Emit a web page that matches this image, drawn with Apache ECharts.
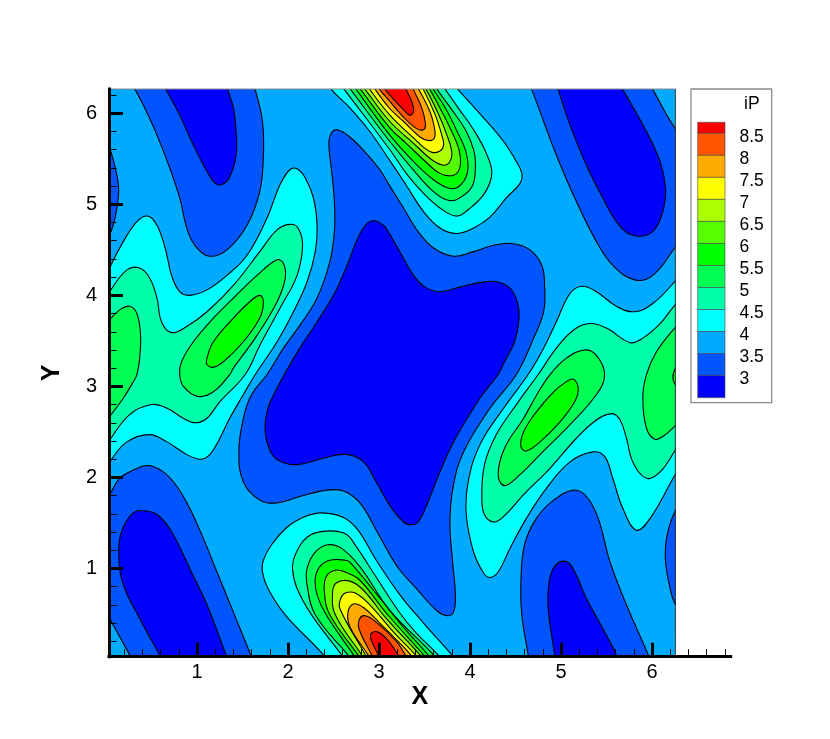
<!DOCTYPE html>
<html><head><meta charset="utf-8">
<style>html,body{margin:0;padding:0;background:#fff}#c{width:830px;height:739px}</style>
<script src="https://cdn.jsdelivr.net/npm/echarts@6/dist/echarts.min.js"></script>
</head><body><div id="c"></div>
<script>
// Contour levels (legend, top to bottom) and their band colours
const legendLabels = ['8.5','8','7.5','7','6.5','6','5.5','5','4.5','4','3.5','3'];
const bandColors = ['#ff0000','#ff5500','#ffaa00','#ffff00','#aaff00','#55ff00','#00ff00','#00ff55','#00ffaa','#00ffff','#00aaff','#0055ff','#0000ff'];
const majorTicks = [1,2,3,4,5,6];
const xMinorTicks = [0.2,0.4,0.6,0.8,1.2,1.4,1.6,1.8,2.2,2.4,2.6,2.8,3.2,3.4,3.6,3.8,4.2,4.4,4.6,4.8,5.2,5.4,5.6,5.8,6.2,6.4,6.6,6.8];
const yMinorTicks = [0.2,0.4,0.6,0.8,1.2,1.4,1.6,1.8,2.2,2.4,2.6,2.8,3.2,3.4,3.6,3.8,4.2,4.4,4.6,4.8,5.2,5.4,5.6,5.8,6.2];

// Domain of the field
const domain = [[0.033,0.03],[6.257,0.03],[6.257,6.267],[0.033,6.267]];

// Regions below 3.5
const below35 = [
 [[1.77,3.13],[1.95,3.42],[2.13,3.67],[2.32,3.97],[2.46,4.37],[2.51,4.70],[2.51,5.03],[2.48,5.36],[2.45,5.65],[2.47,5.77],[2.54,5.82],[2.68,5.74],[2.86,5.56],[3.01,5.38],[3.12,5.20],[3.27,4.96],[3.43,4.70],[3.60,4.52],[3.82,4.43],[4.04,4.48],[4.26,4.55],[4.46,4.57],[4.66,4.50],[4.79,4.33],[4.82,4.11],[4.81,3.82],[4.70,3.53],[4.51,3.13],[4.22,2.76],[3.93,2.28],[3.82,1.92],[3.78,1.51],[3.81,1.07],[3.84,0.71],[3.82,0.52],[3.75,0.48],[3.63,0.54],[3.41,0.78],[3.23,0.98],[3.12,1.15],[2.97,1.42],[2.79,1.72],[2.61,1.85],[2.43,1.86],[2.13,1.79],[1.88,1.72],[1.69,1.75],[1.51,1.95],[1.46,2.28],[1.51,2.65],[1.60,2.91]],
 [[-0.1,5.95],[0.04,5.62],[0.12,5.32],[0.14,5.14],[0.10,4.85],[0.04,4.66],[-0.1,4.4]],
 [[0.2,6.46],[0.32,6.26],[0.41,6.09],[0.56,5.76],[0.70,5.40],[0.81,5.07],[0.90,4.70],[1.00,4.52],[1.14,4.43],[1.33,4.50],[1.55,4.77],[1.69,5.14],[1.73,5.54],[1.72,5.91],[1.64,6.26],[1.58,6.46]],
 [[4.6,6.46],[4.68,6.26],[4.81,5.91],[4.95,5.54],[5.17,5.03],[5.39,4.59],[5.57,4.33],[5.81,4.17],[6.01,4.22],[6.25,4.52],[6.45,4.8],[6.6,5.3],[6.45,5.6],[6.25,5.84],[6.01,6.26],[5.9,6.46]],
 [[-0.1,1.6],[0.04,1.81],[0.15,1.99],[0.30,2.08],[0.46,2.13],[0.63,2.06],[0.78,1.90],[0.92,1.66],[1.07,1.33],[1.22,0.96],[1.40,0.52],[1.60,0.03],[1.68,-0.14],[0.36,-0.14],[0.26,0.05],[0.04,0.45],[-0.1,0.7]],
 [[6.45,0.3],[6.25,0.62],[6.20,0.78],[6.15,1.07],[6.16,1.33],[6.25,1.62],[6.45,1.95],[6.6,1.1]],
 [[4.67,-0.14],[4.64,0.05],[4.57,0.49],[4.56,0.85],[4.60,1.26],[4.73,1.55],[4.92,1.75],[5.14,1.86],[5.28,1.79],[5.41,1.55],[5.54,1.07],[5.72,0.60],[5.96,0.05],[6.03,-0.14]]
];
// Regions below 3
const below3 = [
 [[1.96,3.13],[2.13,3.42],[2.32,3.71],[2.50,4.00],[2.65,4.33],[2.75,4.59],[2.85,4.77],[2.94,4.82],[3.05,4.77],[3.12,4.67],[3.23,4.48],[3.38,4.22],[3.51,4.09],[3.67,4.04],[3.89,4.09],[4.11,4.14],[4.29,4.15],[4.44,4.08],[4.52,3.93],[4.54,3.75],[4.49,3.49],[4.38,3.27],[4.31,3.13],[4.11,2.87],[3.82,2.39],[3.67,2.06],[3.51,1.66],[3.43,1.51],[3.36,1.48],[3.27,1.51],[3.12,1.69],[2.97,1.95],[2.83,2.17],[2.66,2.25],[2.46,2.23],[2.28,2.18],[2.10,2.14],[1.93,2.17],[1.82,2.26],[1.75,2.50],[1.78,2.76],[1.88,2.98]],
 [[0.55,6.46],[0.66,6.26],[0.81,5.98],[0.96,5.65],[1.11,5.36],[1.20,5.23],[1.28,5.22],[1.36,5.30],[1.43,5.54],[1.43,5.80],[1.40,6.06],[1.34,6.26],[1.30,6.46]],
 [[4.9,6.46],[4.97,6.26],[5.10,5.87],[5.28,5.43],[5.46,5.07],[5.61,4.81],[5.76,4.67],[5.94,4.66],[6.05,4.75],[6.13,4.96],[6.15,5.18],[6.09,5.47],[5.94,5.80],[5.68,6.26],[5.55,6.46]],
 [[0.70,-0.14],[0.59,0.05],[0.37,0.45],[0.19,0.82],[0.14,1.15],[0.17,1.40],[0.30,1.61],[0.45,1.63],[0.59,1.57],[0.74,1.37],[0.92,1.00],[1.11,0.60],[1.32,0.05],[1.40,-0.14]],
 [[4.95,-0.14],[4.93,0.05],[4.86,0.56],[4.87,0.85],[4.93,1.02],[5.03,1.08],[5.12,1.02],[5.28,0.67],[5.46,0.34],[5.61,0.05],[5.68,-0.14]]
];
// Regions above 4
const above4 = [
 [[-0.1,3.95],[0.04,4.30],[0.19,4.59],[0.34,4.81],[0.46,4.87],[0.56,4.77],[0.65,4.52],[0.72,4.22],[0.81,4.04],[0.92,4.00],[1.11,4.06],[1.33,4.22],[1.55,4.44],[1.77,4.85],[1.91,5.21],[2.02,5.38],[2.10,5.39],[2.19,5.29],[2.28,5.07],[2.32,4.77],[2.30,4.48],[2.21,4.15],[2.06,3.82],[1.88,3.49],[1.64,3.13],[1.51,2.91],[1.36,2.65],[1.22,2.37],[1.12,2.23],[1.03,2.20],[0.89,2.25],[0.67,2.39],[0.48,2.47],[0.23,2.39],[0.04,2.17],[-0.1,1.95]],
 [[2.35,6.48],[2.48,6.26],[2.68,6.06],[2.90,5.80],[3.12,5.48],[3.30,5.21],[3.49,4.92],[3.67,4.74],[3.85,4.68],[4.04,4.74],[4.22,4.86],[4.40,5.07],[4.55,5.23],[4.57,5.34],[4.51,5.47],[4.37,5.69],[4.15,5.95],[3.87,6.26],[3.69,6.46]],
 [[2.52,-0.14],[2.39,0.05],[1.97,0.49],[1.78,0.78],[1.72,0.96],[1.73,1.09],[1.82,1.26],[2.00,1.46],[2.19,1.57],[2.37,1.61],[2.61,1.56],[2.77,1.42],[2.97,1.09],[3.23,0.71],[3.49,0.40],[3.80,0.05],[3.96,-0.14]],
 [[6.45,4.4],[6.25,4.15],[6.01,3.91],[5.81,3.82],[5.61,3.88],[5.39,4.04],[5.23,4.10],[5.10,4.02],[4.95,3.71],[4.81,3.42],[4.64,3.13],[4.37,2.76],[4.11,2.36],[3.98,1.95],[3.96,1.59],[4.04,1.18],[4.15,0.95],[4.22,0.90],[4.31,0.96],[4.44,1.22],[4.62,1.55],[4.84,1.88],[5.10,2.17],[5.35,2.28],[5.48,2.23],[5.57,1.99],[5.68,1.66],[5.83,1.42],[5.98,1.55],[6.25,2.02],[6.45,2.35],[6.6,3.3]]
];
// Regions above 4.5
const above45 = [
 [[-0.1,3.8],[0.04,4.04],[0.23,4.28],[0.37,4.30],[0.48,4.19],[0.56,3.97],[0.61,3.71],[0.72,3.59],[0.89,3.66],[1.11,3.82],[1.40,4.11],[1.69,4.48],[1.88,4.72],[2.02,4.78],[2.11,4.74],[2.16,4.55],[2.10,4.22],[1.93,3.89],[1.69,3.45],[1.53,3.13],[1.25,2.83],[1.11,2.65],[0.98,2.60],[0.85,2.65],[0.67,2.76],[0.50,2.80],[0.26,2.69],[0.04,2.41],[-0.1,2.2]],
 [[2.47,6.46],[2.62,6.26],[3.12,5.60],[3.30,5.34],[3.49,5.12],[3.67,4.96],[3.85,4.87],[3.98,4.94],[4.16,5.12],[4.24,5.34],[4.18,5.56],[4.04,5.82],[3.87,6.06],[3.73,6.26],[3.58,6.46]],
 [[2.73,-0.14],[2.59,0.05],[2.26,0.49],[2.10,0.78],[2.05,1.00],[2.08,1.15],[2.22,1.35],[2.41,1.41],[2.63,1.38],[2.75,1.24],[2.94,0.95],[3.23,0.51],[3.41,0.29],[3.65,0.05],[3.80,-0.14]],
 [[6.45,4.1],[6.25,3.89],[6.09,3.69],[5.90,3.53],[5.76,3.48],[5.50,3.64],[5.32,3.69],[5.14,3.62],[4.95,3.42],[4.75,3.13],[4.51,2.80],[4.29,2.47],[4.16,2.14],[4.13,1.77],[4.16,1.59],[4.26,1.51],[4.37,1.57],[4.59,1.81],[4.88,2.10],[5.17,2.43],[5.39,2.63],[5.56,2.70],[5.65,2.63],[5.72,2.43],[5.79,2.17],[5.94,1.99],[6.09,2.06],[6.25,2.29],[6.45,2.6],[6.6,3.3]]
];
// Regions above 5
const above5 = [
 [[-0.1,3.55],[0.04,3.73],[0.15,3.84],[0.26,3.88],[0.34,3.80],[0.38,3.56],[0.37,3.31],[0.34,3.13],[0.30,3.05],[0.19,2.87],[0.04,2.67],[-0.1,2.5]],
 [[0.81,3.13],[0.83,3.27],[0.96,3.49],[1.18,3.75],[1.40,3.97],[1.66,4.22],[1.88,4.39],[1.95,4.35],[1.97,4.19],[1.88,3.93],[1.66,3.56],[1.40,3.20],[1.36,3.13],[1.18,2.94],[1.01,2.89],[0.85,3.00]],
 [[2.54,6.46],[2.69,6.26],[3.12,5.69],[3.41,5.34],[3.60,5.14],[3.74,5.05],[3.85,5.05],[4.02,5.19],[4.06,5.41],[4.04,5.60],[3.95,5.82],[3.80,6.04],[3.64,6.26],[3.50,6.46]],
 [[2.82,-0.14],[2.66,0.05],[2.30,0.49],[2.21,0.82],[2.21,1.00],[2.30,1.18],[2.44,1.26],[2.59,1.22],[2.79,1.02],[3.12,0.54],[3.60,0.05],[3.75,-0.14]],
 [[4.88,3.13],[5.06,3.31],[5.26,3.40],[5.39,3.34],[5.48,3.13],[5.39,2.91],[5.10,2.58],[4.77,2.25],[4.55,2.03],[4.38,1.91],[4.31,2.03],[4.38,2.32],[4.59,2.65],[4.73,2.90]],
 [[6.45,3.85],[6.25,3.64],[6.05,3.38],[5.94,3.13],[5.90,2.87],[5.94,2.54],[6.03,2.42],[6.12,2.45],[6.25,2.56],[6.45,2.75],[6.6,3.3]]
];
// Regions above 5.5
const above55 = [
 [[-0.1,3.35],[0.05,3.1],[-0.1,2.85]],
 [[1.11,3.31],[1.18,3.49],[1.40,3.75],[1.58,3.93],[1.69,4.00],[1.73,3.93],[1.69,3.75],[1.51,3.49],[1.29,3.27],[1.18,3.21],[1.11,3.24]],
 [[2.60,6.46],[2.75,6.26],[3.12,5.76],[3.38,5.47],[3.60,5.27],[3.76,5.18],[3.87,5.19],[3.97,5.34],[3.96,5.56],[3.85,5.82],[3.74,6.04],[3.60,6.26],[3.46,6.46]],
 [[2.85,-0.14],[2.72,0.05],[2.42,0.49],[2.32,0.71],[2.30,0.89],[2.35,1.02],[2.46,1.09],[2.63,1.09],[2.68,1.07],[2.94,0.76],[3.23,0.40],[3.54,0.05],[3.70,-0.14]],
 [[5.13,3.08],[5.19,2.98],[5.15,2.83],[4.99,2.61],[4.77,2.39],[4.62,2.29],[4.56,2.34],[4.59,2.50],[4.73,2.72],[4.92,2.94],[5.03,3.03]],
 [[6.4,3.35],[6.23,3.1],[6.4,2.9]]
];
// Regions above 6 ... above 8.5 (the two peaks)
const above6 = [
 [[2.65,6.46],[2.80,6.26],[3.12,5.84],[3.30,5.67],[3.49,5.49],[3.67,5.34],[3.82,5.32],[3.89,5.41],[3.88,5.60],[3.79,5.82],[3.69,6.02],[3.56,6.26],[3.43,6.46]],
 [[2.90,-0.14],[2.77,0.05],[2.46,0.49],[2.40,0.74],[2.42,0.91],[2.52,0.98],[2.63,0.96],[2.79,0.87],[3.08,0.51],[3.49,0.05],[3.65,-0.14]]
];
const above65 = [
 [[2.70,6.46],[2.85,6.26],[3.12,5.91],[3.38,5.67],[3.58,5.49],[3.71,5.43],[3.78,5.47],[3.80,5.58],[3.74,5.78],[3.65,6.00],[3.52,6.26],[3.39,6.46]],
 [[2.93,-0.14],[2.81,0.05],[2.52,0.49],[2.49,0.73],[2.53,0.84],[2.68,0.86],[2.83,0.76],[3.08,0.45],[3.45,0.05],[3.60,-0.14]]
];
const above7 = [
 [[2.76,6.46],[2.90,6.26],[3.12,5.98],[3.38,5.73],[3.56,5.58],[3.66,5.58],[3.71,5.65],[3.69,5.76],[3.62,5.98],[3.49,6.26],[3.37,6.46]],
 [[2.95,-0.14],[2.85,0.05],[2.57,0.56],[2.58,0.67],[2.63,0.73],[2.74,0.73],[2.90,0.60],[3.16,0.30],[3.40,0.05],[3.55,-0.14]]
];
const above75 = [
 [[2.82,6.46],[2.96,6.26],[3.12,6.05],[3.27,5.91],[3.45,5.74],[3.55,5.70],[3.61,5.73],[3.61,5.84],[3.56,6.02],[3.44,6.26],[3.33,6.46]],
 [[3.00,-0.14],[2.88,0.05],[2.68,0.36],[2.66,0.52],[2.72,0.61],[2.83,0.57],[3.01,0.40],[3.23,0.18],[3.35,0.05],[3.50,-0.14]]
];
const above8 = [
 [[2.88,6.46],[3.01,6.26],[3.12,6.13],[3.25,5.98],[3.40,5.84],[3.49,5.82],[3.51,5.89],[3.47,6.06],[3.38,6.26],[3.30,6.46]],
 [[3.02,-0.14],[2.92,0.05],[2.78,0.34],[2.79,0.45],[2.85,0.48],[2.97,0.41],[3.19,0.20],[3.29,0.05],[3.42,-0.14]]
];
const above85 = [
 [[2.95,6.46],[3.07,6.26],[3.12,6.20],[3.27,6.04],[3.34,5.98],[3.38,6.02],[3.36,6.13],[3.30,6.26],[3.23,6.46]],
 [[3.06,-0.14],[2.99,0.05],[2.91,0.23],[2.92,0.29],[2.99,0.30],[3.10,0.21],[3.21,0.05],[3.33,-0.14]]
];
// Edges of the field
const topEdge = [[0.033,6.267],[6.257,6.267]];
const rightEdge = [[6.257,6.267],[6.257,0.03]];

const paint = [
 [below35,11],[below3,12],[above4,9],[above45,8],[above5,7],[above55,6],[above6,5],[above65,4],[above7,3],[above75,2],[above8,1],[above85,0]
];
const regions = [];
paint.forEach(function(p){ p[0].forEach(function(poly){ regions.push({poly:poly,color:bandColors[p[1]]}); }); });

const FONT = '"Liberation Sans", Arial, sans-serif';
const legendX = 697.7, legendW = 27.3, legendTop = 122.3, firstH = 11, stepH = 22.03;
const legendGraphics = [
 {type:'rect',shape:{x:691,y:89,width:80.7,height:313.7},style:{fill:'#fff',stroke:'#8c8c8c',lineWidth:1.3}},
 {type:'text',style:{x:744,y:104,text:'iP',fill:'#000',font:'17.5px '+FONT,textVerticalAlign:'middle'}}
];
bandColors.forEach(function(c,i){
  const y = i===0 ? legendTop : legendTop+firstH+(i-1)*stepH;
  const h = i===0 ? firstH : stepH;
  legendGraphics.push({type:'rect',shape:{x:legendX,y:y,width:legendW,height:h},style:{fill:c,stroke:'#444',lineWidth:0.6}});
});
legendLabels.forEach(function(t,i){
  legendGraphics.push({type:'text',style:{x:739.5,y:136.8+i*stepH,text:t,fill:'#000',font:'17.5px '+FONT,textVerticalAlign:'middle'}});
});

const axisLineStyle = {show:true,onZero:false,lineStyle:{color:'#000',width:3,cap:'square'}};
const baseX = {gridIndex:1,type:'value',min:0.033,max:6.865,position:'bottom',splitLine:{show:false},z:5};
const baseY = {gridIndex:1,type:'value',min:0.03,max:6.267,position:'left',splitLine:{show:false},z:5};

const chart = echarts.init(document.getElementById('c'),null,{renderer:'canvas'});
chart.setOption({
  animation:false,
  backgroundColor:'#fff',
  grid:[
    {left:109,top:89,width:566.3,height:567.7},
    {left:109,top:89,width:621.7,height:567.7}
  ],
  xAxis:[
    {gridIndex:0,type:'value',min:0.033,max:6.257,show:false},
    Object.assign({},baseX,{axisLine:axisLineStyle,
      axisTick:{show:true,inside:true,length:14,lineStyle:{color:'#000',width:3},customValues:majorTicks},
      axisLabel:{show:true,customValues:majorTicks,margin:6,fontFamily:FONT,fontSize:20,color:'#000'},
      name:'X',nameLocation:'middle',nameGap:28,nameMoveOverlap:false,nameTextStyle:{fontFamily:FONT,fontSize:25,fontWeight:'bold',color:'#000'}}),
    Object.assign({},baseX,{axisLine:{show:false},
      axisTick:{show:true,inside:true,length:7.5,lineStyle:{color:'#000',width:1},customValues:xMinorTicks},
      axisLabel:{show:false}})
  ],
  yAxis:[
    {gridIndex:0,type:'value',min:0.03,max:6.267,show:false},
    Object.assign({},baseY,{axisLine:axisLineStyle,
      axisTick:{show:true,inside:true,length:14,lineStyle:{color:'#000',width:3},customValues:majorTicks},
      axisLabel:{show:true,customValues:majorTicks,margin:12,fontFamily:FONT,fontSize:20,color:'#000'},
      name:'Y',nameLocation:'middle',nameGap:44,nameMoveOverlap:false,nameRotate:90,nameTextStyle:{fontFamily:FONT,fontSize:25,fontWeight:'bold',color:'#000'}}),
    Object.assign({},baseY,{axisLine:{show:false},
      axisTick:{show:true,inside:true,length:7.5,lineStyle:{color:'#000',width:1},customValues:yMinorTicks},
      axisLabel:{show:false}})
  ],
  graphic:{elements:legendGraphics},
  series:[
    {type:'custom',name:'domain',xAxisIndex:0,yAxisIndex:0,clip:true,z:1,silent:true,
     data:[[0]],
     renderItem:function(p,api){
       return {type:'polygon',shape:{points:domain.map(function(d){return api.coord(d);})},style:{fill:bandColors[10],stroke:null}};
     }},
    {type:'custom',name:'iP',xAxisIndex:0,yAxisIndex:0,clip:true,z:2,silent:true,
     data:regions.map(function(r,i){return [i];}),
     renderItem:function(p,api){
       const r = regions[api.value(0)];
       return {type:'polygon',shape:{points:r.poly.map(function(d){return api.coord(d);}),smooth:0.4},
               style:{fill:r.color,stroke:'#000',lineWidth:1.1}};
     }},
    {type:'custom',name:'edges',xAxisIndex:1,yAxisIndex:1,clip:false,z:3,silent:true,
     data:[[0],[1]],
     renderItem:function(p,api){
       const i = api.value(0);
       const pts = (i===0?topEdge:rightEdge).map(function(d){return api.coord(d);});
       return {type:'polyline',shape:{points:pts},style:{fill:null,stroke:i===0?'#8c8c8c':'#333',lineWidth:1}};
     }}
  ]
});
</script></body></html>
